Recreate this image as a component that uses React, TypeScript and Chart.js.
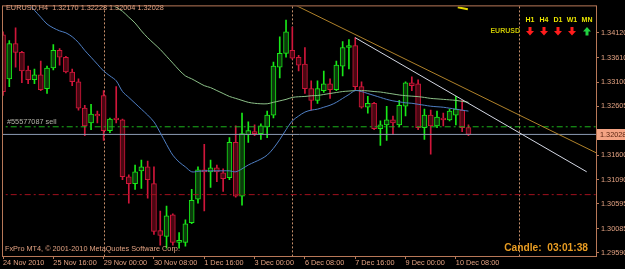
import React, { useEffect, useRef } from 'react';
import { Chart, registerables } from 'chart.js';

Chart.register(...registerables);

// ---- data (EURUSD H4) ----
const tickBars = [0, 8, 16, 24, 32, 40, 48, 56, 64, 72];
const tickLabels = ['24 Nov 2010', '25 Nov 16:00', '29 Nov 00:00', '30 Nov 08:00', '1 Dec 16:00', '3 Dec 00:00', '6 Dec 08:00', '7 Dec 16:00', '9 Dec 00:00', '10 Dec 08:00'];
const priceTicks = [1.3412, 1.3361, 1.331, 1.32605, 1.316, 1.3109, 1.30595, 1.30085, 1.2959];

const open = [1.34080, 1.33173, 1.33899, 1.33717, 1.33354, 1.33153, 1.33254, 1.32971, 1.33395, 1.33758,
  1.33617, 1.33314, 1.33112, 1.32568, 1.32266, 1.32447, 1.32830, 1.32105, 1.32367, 1.32326,
  1.31157, 1.31016, 1.31278, 1.31359, 1.31016, 1.30048, 1.29927, 1.30371, 1.29806, 1.29806,
  1.30209, 1.30693, 1.31298, 1.31258, 1.31338, 1.31238, 1.31137, 1.31863, 1.30754, 1.32024,
  1.32084, 1.32044, 1.32185, 1.32427, 1.33415, 1.33697, 1.33758, 1.33617, 1.33475, 1.32971,
  1.32729, 1.32931, 1.33072, 1.32951, 1.33435, 1.33818, 1.33858, 1.33012, 1.32588, 1.32669,
  1.32145, 1.32225, 1.32326, 1.32225, 1.32609, 1.33092, 1.33072, 1.32165, 1.32427, 1.32205,
  1.32367, 1.32326, 1.32427, 1.32528, 1.32170];
const high = [1.34141, 1.33959, 1.34221, 1.33737, 1.33435, 1.33375, 1.33536, 1.33435, 1.33879, 1.33798,
  1.33637, 1.33375, 1.33173, 1.32629, 1.32649, 1.32508, 1.32931, 1.32367, 1.33012, 1.32346,
  1.31197, 1.31399, 1.31500, 1.31480, 1.31359, 1.30451, 1.30552, 1.30391, 1.30008, 1.30270,
  1.30895, 1.31359, 1.31822, 1.31500, 1.31399, 1.31318, 1.31963, 1.32205, 1.32467, 1.32286,
  1.32225, 1.32246, 1.32508, 1.33516, 1.34040, 1.34383, 1.34241, 1.33657, 1.33818, 1.33133,
  1.33133, 1.33334, 1.33173, 1.33536, 1.33939, 1.33979, 1.34020, 1.33112, 1.32810, 1.32689,
  1.32306, 1.32609, 1.32407, 1.32729, 1.33112, 1.33213, 1.33153, 1.32548, 1.32528, 1.32508,
  1.32467, 1.32548, 1.32810, 1.32729, 1.32228];
const low = [1.32830, 1.33012, 1.33415, 1.33092, 1.33072, 1.33072, 1.32931, 1.32871, 1.33354, 1.33455,
  1.33294, 1.33032, 1.32528, 1.32004, 1.32125, 1.32266, 1.31903, 1.32064, 1.32266, 1.31096,
  1.30613, 1.30895, 1.30915, 1.30713, 1.29968, 1.29746, 1.29685, 1.29746, 1.29685, 1.29726,
  1.30189, 1.30613, 1.30451, 1.30935, 1.31056, 1.30855, 1.31096, 1.30734, 1.30572, 1.31863,
  1.32004, 1.31923, 1.31963, 1.32367, 1.33193, 1.33617, 1.33576, 1.33334, 1.32871, 1.32528,
  1.32669, 1.32891, 1.32770, 1.32931, 1.33233, 1.33375, 1.32931, 1.32568, 1.32467, 1.32125,
  1.31802, 1.31903, 1.32024, 1.32185, 1.32407, 1.32931, 1.32125, 1.31923, 1.31621, 1.32165,
  1.32205, 1.32306, 1.32225, 1.32084, 1.32004];
const close = [1.32911, 1.33899, 1.33717, 1.33334, 1.33153, 1.33254, 1.32951, 1.33395, 1.33758, 1.33617,
  1.33314, 1.33112, 1.32568, 1.32205, 1.32447, 1.32407, 1.32105, 1.32346, 1.32326, 1.31157,
  1.31016, 1.31258, 1.31359, 1.31096, 1.30028, 1.29947, 1.30351, 1.29806, 1.29847, 1.30189,
  1.30673, 1.31298, 1.31258, 1.31338, 1.31258, 1.31117, 1.31863, 1.30754, 1.32044, 1.32105,
  1.32044, 1.32205, 1.32427, 1.33435, 1.33697, 1.34141, 1.33596, 1.33455, 1.32971, 1.32729,
  1.32971, 1.33072, 1.32951, 1.33455, 1.33818, 1.33858, 1.33012, 1.32588, 1.32669, 1.32145,
  1.32225, 1.32326, 1.32266, 1.32629, 1.33092, 1.33032, 1.32165, 1.32427, 1.32205, 1.32387,
  1.32326, 1.32508, 1.32548, 1.32165, 1.32028];

const maFast = [1.35189, 1.35068, 1.34947, 1.34826, 1.34725, 1.34584, 1.34443, 1.34302, 1.34221, 1.34161,
  1.34120, 1.34040, 1.33919, 1.33758, 1.33617, 1.33475, 1.33334, 1.33233, 1.33133, 1.32911,
  1.32790, 1.32669, 1.32548, 1.32427, 1.32286, 1.32064, 1.31822, 1.31601, 1.31459, 1.31359,
  1.31258, 1.31268, 1.31278, 1.31278, 1.31278, 1.31278, 1.31278, 1.31258, 1.31318, 1.31399,
  1.31459, 1.31520, 1.31601, 1.31742, 1.31923, 1.32125, 1.32306, 1.32407, 1.32488, 1.32528,
  1.32548, 1.32588, 1.32629, 1.32689, 1.32770, 1.32850, 1.32931, 1.32911, 1.32871, 1.32830,
  1.32790, 1.32750, 1.32719, 1.32699, 1.32679, 1.32669, 1.32649, 1.32629, 1.32609, 1.32598,
  1.32588, 1.32568, 1.32548, 1.32528, 1.32508];
const maSlow = [1.36399, 1.36257, 1.36157, 1.36056, 1.35975, 1.35874, 1.35774, 1.35693, 1.35592, 1.35491,
  1.35391, 1.35290, 1.35209, 1.35108, 1.35008, 1.34927, 1.34826, 1.34725, 1.34645, 1.34564,
  1.34443, 1.34322, 1.34161, 1.34020, 1.33899, 1.33778, 1.33637, 1.33496, 1.33354, 1.33233,
  1.33173, 1.33102, 1.33032, 1.32992, 1.32931, 1.32871, 1.32810, 1.32770, 1.32729, 1.32689,
  1.32669, 1.32659, 1.32659, 1.32689, 1.32719, 1.32750, 1.32790, 1.32804, 1.32810, 1.32824,
  1.32830, 1.32850, 1.32871, 1.32891, 1.32911, 1.32921, 1.32931, 1.32931, 1.32925, 1.32911,
  1.32901, 1.32881, 1.32861, 1.32840, 1.32826, 1.32816, 1.32806, 1.32790, 1.32770, 1.32760,
  1.32750, 1.32740, 1.32729, 1.32709, 1.32689];

const orderPrice = 1.32185;
const bidPrice = 1.32028;
const redLevel = 1.30788;
const silverLineBars = [56, 92.8];
const silverLinePrices = [1.3402, 1.31258];
const goldLineBars = [46, 95];
const goldLinePrices = [1.34721, 1.31605];
const yellowMarkBars = [72.3, 73.9];
const yellowMarkPrices = [1.34645, 1.34604];
const separatorBars = [16, 46, 82];
const yMin = 1.29524;
const yMax = 1.34665;
const xMin = 0;
const xMax = 94.28;

const TXT = '#e0a080';
const AXIS = '#b87858';
const FONT = '"Liberation Sans", Arial, sans-serif';

function drawArrow(ctx: CanvasRenderingContext2D, cx: number, top: number, down: boolean, color: string) {
  ctx.fillStyle = color;
  ctx.beginPath();
  if (down) {
    ctx.moveTo(cx - 1.5, top);
    ctx.lineTo(cx + 1.5, top);
    ctx.lineTo(cx + 1.5, top + 4);
    ctx.lineTo(cx + 4, top + 4);
    ctx.lineTo(cx, top + 8.5);
    ctx.lineTo(cx - 4, top + 4);
    ctx.lineTo(cx - 1.5, top + 4);
  } else {
    ctx.moveTo(cx - 1.5, top + 8.5);
    ctx.lineTo(cx + 1.5, top + 8.5);
    ctx.lineTo(cx + 1.5, top + 4.5);
    ctx.lineTo(cx + 4, top + 4.5);
    ctx.lineTo(cx, top);
    ctx.lineTo(cx - 4, top + 4.5);
    ctx.lineTo(cx - 1.5, top + 4.5);
  }
  ctx.closePath();
  ctx.fill();
}

const overlayPlugin = {
  id: 'mt4Overlay',
  beforeDatasetsDraw(chart: any) {
    const { ctx, chartArea, scales } = chart;
    ctx.save();
    ctx.strokeStyle = '#c8906c';
    ctx.lineWidth = 1;
    ctx.setLineDash([2, 2]);
    separatorBars.forEach((b) => {
      const x = Math.round(scales.x.getPixelForValue(b)) + 0.5;
      ctx.beginPath();
      ctx.moveTo(x, chartArea.top);
      ctx.lineTo(x, chartArea.bottom);
      ctx.stroke();
    });
    ctx.restore();
  },
  afterDraw(chart: any) {
    const { ctx, chartArea, scales } = chart;
    ctx.save();
    // frame
    ctx.strokeStyle = AXIS;
    ctx.lineWidth = 1;
    ctx.setLineDash([]);
    ctx.strokeRect(chartArea.left - 0.5, chartArea.top - 0.5, chartArea.right - chartArea.left + 1, chartArea.bottom - chartArea.top + 1);

    ctx.textBaseline = 'middle';
    // header
    ctx.font = `7.3px ${FONT}`;
    ctx.fillStyle = TXT;
    ctx.textAlign = 'left';
    const last = open.length - 1;
    ctx.fillText(`EURUSD,H4  ${open[last].toFixed(5)} ${high[last].toFixed(5)} ${low[last].toFixed(5)} ${close[last].toFixed(5)}`, 6, 8);
    // copyright
    ctx.fillText('FxPro MT4, © 2001-2010 MetaQuotes Software Corp.', 5, 249);
    // order label
    ctx.fillStyle = '#b4b4aa';
    ctx.fillText('#55577087 sell', 7, scales.y.getPixelForValue(orderPrice) - 5);
    // candle timer
    ctx.font = `bold 10.2px ${FONT}`;
    ctx.fillStyle = '#e89c22';
    ctx.textAlign = 'right';
    ctx.fillText('Candle:  03:01:38', 588, 248.5);
    // signal panel
    ctx.font = `bold 7px ${FONT}`;
    ctx.fillStyle = '#c8c400';
    ctx.textAlign = 'right';
    ctx.fillText('EURUSD', 520, 31);
    ctx.fillStyle = '#e8e400';
    ctx.textAlign = 'center';
    const tfs = ['H1', 'H4', 'D1', 'W1', 'MN'];
    const cxs = [530, 544, 558, 572, 587];
    tfs.forEach((t, k) => ctx.fillText(t, cxs[k], 20));
    cxs.forEach((cx, k) => drawArrow(ctx, cx, 27, k < 4, k < 4 ? '#ff1c1c' : '#20d040'));
    // bid price box on axis
    const by = scales.y.getPixelForValue(bidPrice);
    ctx.fillStyle = '#f4a484';
    ctx.fillRect(chartArea.right + 1, Math.round(by) - 5, 625 - chartArea.right - 1, 11);
    ctx.fillStyle = '#5a2410';
    ctx.textAlign = 'left';
    ctx.font = `7.3px ${FONT}`;
    ctx.fillText(bidPrice.toFixed(5), chartArea.right + 4, Math.round(by) + 0.5);
    ctx.restore();
  },
};

export default function App() {
  const ref = useRef<HTMLCanvasElement | null>(null);
  useEffect(() => {
    const canvas = ref.current;
    if (!canvas) return;
    const idx = open.map((_, i) => i);
    const bull = idx.map((i) => close[i] >= open[i]);
    const lineCol = bull.map((b) => (b ? '#18e818' : '#d0163a'));
    const fillCol = bull.map((b) => (b ? '#0b3a0b' : '#4a0712'));
    const hline = (p: number) => [{ x: -1, y: p }, { x: 96, y: p }];
    const seg = (bars: number[], prices: number[]) => bars.map((b, k) => ({ x: b, y: prices[k] }));
    const chart = new Chart(canvas, {
      type: 'bar',
      data: {
        datasets: [
          { type: 'bar', label: 'wick', data: idx.map((i) => ({ x: i, y: [low[i], high[i]] })) as any, backgroundColor: lineCol, borderWidth: 0, barThickness: 1, grouped: false, order: 12 } as any,
          { type: 'bar', label: 'body', data: idx.map((i) => ({ x: i, y: [open[i], close[i]] })) as any, backgroundColor: fillCol, borderColor: lineCol, borderWidth: 1, borderSkipped: false, barThickness: 5, grouped: false, order: 11 } as any,
          { type: 'line', label: 'order', data: hline(orderPrice), borderColor: '#1cb41c', borderWidth: 1, borderDash: [6, 3, 2, 3], pointRadius: 0, order: 9 } as any,
          { type: 'line', label: 'sl', data: hline(redLevel), borderColor: '#a0101e', borderWidth: 1, borderDash: [6, 3, 2, 3], pointRadius: 0, order: 9 } as any,
          { type: 'line', label: 'bid', data: hline(bidPrice), borderColor: '#8c9cb4', borderWidth: 1, pointRadius: 0, order: 8 } as any,
          { type: 'line', label: 'maSlow', data: idx.map((i) => ({ x: i, y: maSlow[i] })), borderColor: '#8cc088', borderWidth: 1, pointRadius: 0, tension: 0.3, order: 5 } as any,
          { type: 'line', label: 'maFast', data: idx.map((i) => ({ x: i, y: maFast[i] })), borderColor: '#4f7fc4', borderWidth: 1, pointRadius: 0, tension: 0.3, order: 4 } as any,
          { type: 'line', label: 'gold', data: seg(goldLineBars, goldLinePrices), borderColor: '#b0822a', borderWidth: 1, pointRadius: 0, order: 3 } as any,
          { type: 'line', label: 'silver', data: seg(silverLineBars, silverLinePrices), borderColor: '#d4d8e4', borderWidth: 1, pointRadius: 0, order: 2 } as any,
          { type: 'line', label: 'mark', data: seg(yellowMarkBars, yellowMarkPrices), borderColor: '#e8d800', borderWidth: 2, pointRadius: 0, order: 1 } as any,
        ],
      },
      options: {
        animation: false,
        responsive: false,
        devicePixelRatio: 1,
        layout: { padding: { left: 3, top: 1, right: 0, bottom: 0 } },
        plugins: { legend: { display: false }, tooltip: { enabled: false } },
        scales: {
          x: {
            type: 'linear',
            min: xMin,
            max: xMax,
            offset: false,
            grid: { display: true, drawOnChartArea: false, drawTicks: true, tickLength: 3, color: AXIS, offset: false },
            border: { display: false },
            afterBuildTicks: (s: any) => { s.ticks = tickBars.map((v) => ({ value: v })); },
            afterFit: (s: any) => { s.height = 13; },
            ticks: {
              autoSkip: false,
              maxRotation: 0,
              minRotation: 0,
              align: 'start',
              padding: 0,
              color: TXT,
              font: { family: FONT, size: 7.3 },
              callback: (v: any) => { const k = tickBars.indexOf(Number(v)); return k >= 0 ? tickLabels[k] : ''; },
            },
          },
          y: {
            type: 'linear',
            position: 'right',
            min: yMin,
            max: yMax,
            beginAtZero: false,
            grid: { display: true, drawOnChartArea: false, drawTicks: true, tickLength: 3, color: AXIS },
            border: { display: false },
            afterBuildTicks: (s: any) => { s.ticks = priceTicks.map((v) => ({ value: v })); },
            afterFit: (s: any) => { s.width = 29; },
            ticks: {
              padding: 2,
              color: TXT,
              font: { family: FONT, size: 7.3 },
              callback: (v: any) => Number(v).toFixed(5),
            },
          },
        },
      } as any,
      plugins: [overlayPlugin],
    });
    return () => chart.destroy();
  }, []);

  return (
    <div style={{ position: 'fixed', left: 0, top: 0, width: 625, height: 269, background: '#000000' }}>
      <canvas ref={ref} width={625} height={269} style={{ display: 'block', width: 625, height: 269 }} />
    </div>
  );
}
